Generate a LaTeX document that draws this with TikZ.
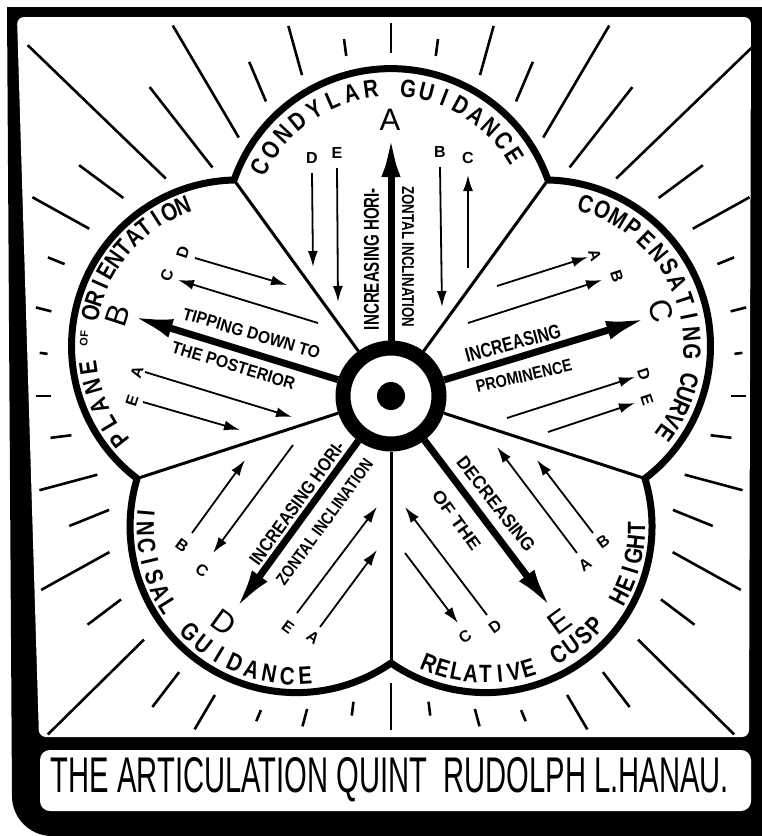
\documentclass[tikz,border=0pt]{standalone}
\usepackage{fontspec}
\setmainfont{Liberation Sans}
\newfontfamily\arcfamily[FakeStretch=0.82]{Liberation Sans}
\usepackage{graphicx}
\usetikzlibrary{arrows.meta}

% one word round a lobe: centre, radius, first angle, last angle, letters, count, turn
\newcommand{\arcword}[7]{%
  \foreach \ch [count=\i] in {#5} {%
    \pgfmathsetmacro\ang{#3+(#4-#3)*(\i-1)/(#6-1)}%
    \node[arcletter, rotate={\ang#7}] at ([shift={(\ang:#2)}]#1) {\ch};
  }}

\tikzset{
  ray/.style={line width=2.6pt},
  divider/.style={line width=3pt},
  petal/.style={line width=7pt, line join=round},
  hub/.style={circle, draw, fill=white, line width=15pt, minimum size=96pt, inner sep=0pt},
  bigarrow/.style={line width=7pt, -{Latex[length=42pt,width=19pt]}},
  smallarrow/.style={line width=1.8pt, -{Latex[length=16pt,width=10pt]}},
  biglabel/.style={font=\fontsize{31}{31}\selectfont, inner sep=0pt},
  smalllabel/.style={font=\bfseries\fontsize{16}{16}\selectfont, inner sep=0pt},
  arcletter/.style={font=\arcfamily\bfseries\fontsize{25}{25}\selectfont, inner sep=0pt},
}

\begin{document}
\begin{tikzpicture}[x=1pt,y=1pt]
\useasboundingbox (0,0) rectangle (762,-836);

% frame
\fill[white] (0,0) rectangle (762,-836);
\fill (7,-7) -- (12,-796) arc[start angle=180,end angle=270,radius=40] -- (762,-836) -- (762,-7) -- cycle;
\fill[white,rounded corners=7pt] (17,-17) -- (751,-17) -- (749,-737) -- (39,-737) -- cycle;
\fill[white,rounded corners=10pt] (40,-750) rectangle (751,-811);
\node (title) at (390,-780) {\resizebox{678pt}{35pt}{THE ARTICULATION QUINT\ \ RUDOLPH L.HANAU.}};

\coordinate (O) at (391,-396);

% rays
\begin{scope}
  \clip (17,-17) -- (751,-17) -- (749,-737) -- (39,-737) -- cycle;
  \foreach \a/\ra/\rb in {90/343/373, 97.5/343/360, 105.5/333/384, 113/320/363,
      120.5/300/430, 128/290/392, 136/313/505, 143.5/333/388, 151/345/410,
      158/352/370, 166/350/366, 173/346/354, 180/340/355, 187/322/343,
      195/304/364, 202/304/347, 209/322/400, 217/338/380, 224.6/347/482,
      232.5/348/392, 239.5/347/387, 247.5/340/352, 255/324/342, 263/308/322,
      270/287/334}
    \draw[ray, shift={(O)}] (\a:\ra) -- (\a:\rb) ({180-\a}:\ra) -- ({180-\a}:\rb);
\end{scope}

% lobe centres and cusps
\foreach \n/\a in {T/90, R/18, BR/-54, BL/-126, L/162}
  \path (O) ++(\a:161) coordinate (c\n);
\foreach \n/\a in {TL/126, TR/54, R/-18, B/-90, L/198}
  \path (O) ++(\a:267) coordinate (k\n);

\node[hub] (hub) at (O) {};
\fill (O) circle[radius=14];

\foreach \n in {TL, TR, R, B, L}
  \draw[divider] (hub) -- (k\n);

\draw[petal] (kTL) arc[start angle=160.7,end angle=19.3,radius=166.3]
  arc[start angle=88.7,end angle=-52.7,radius=166.3]
  arc[start angle=16.7,end angle=-124.7,radius=166.3]
  arc[start angle=-55.3,end angle=-196.7,radius=166.3]
  arc[start angle=232.7,end angle=91.3,radius=166.3] -- cycle;

% lettering round the lobes
\arcword{cT}{147}{152.6}{97.9}{C,O,N,D,Y,L,A,R}{8}{-90}
\arcword{cT}{147}{83.2}{32.6}{G,U,I,D,A,N,C,E}{8}{-90}
\arcword{cL}{151}{218.3}{188.2}{P,L,A,N,E}{5}{-90}
\arcword{cL}{151}{167.1}{111.5}{O,R,I,E,N,T,A,T,I,O,N}{11}{-90}
\arcword{cR}{148}{73.7}{-2.2}{C,O,M,P,E,N,S,A,T,I,N,G}{12}{-90}
\arcword{cR}{149}{-13.2}{-35.5}{C,U,R,V,E}{5}{-90}
\arcword{cBL}{151}{174.9}{212.1}{I,N,C,I,S,A,L}{7}{+90}
\arcword{cBL}{150}{225.1}{273.4}{G,U,I,D,A,N,C,E}{8}{+90}
\arcword{cBR}{148}{247.5}{286.7}{R,E,L,A,T,I,V,E}{8}{+90}
\arcword{cBR}{147}{299.7}{317.7}{C,U,S,P}{4}{+90}
\arcword{cBR}{151}{332.1}{359.4}{H,E,I,G,H,T}{6}{+90}
\node[rotate=87, font=\bfseries\fontsize{11}{11}\selectfont, inner sep=0pt] (of) at ([shift={(177:154)}]cL) {OF};

% big arrows
\draw[bigarrow] (hub) -- (391,-135);
\draw[bigarrow] (hub) -- (131,-316);
\draw[bigarrow] (hub) -- (648,-318);
\draw[bigarrow] (hub) -- (235,-610);
\draw[bigarrow] (hub) -- (552,-609);

\node[biglabel] (A) at (390,-120) {A};
\node[biglabel, rotate=72] (B) at (118,-315) {B};
\node[biglabel, rotate=-72] (C) at (661,-311) {C};
\node[biglabel, rotate=-36] (D) at (224,-622) {D};
\node[biglabel, rotate=36] (E) at (560,-622) {E};

% small arrows
\foreach \x/\y/\u/\v in {312/173/313/267, 337/168/338/302, 440/167/442/307, 468/268/468/175,
    195/258/287/285, 318/323/178/280, 145/372/292/417, 143/402/240/430,
    497/286/588/257, 468/323/602/280, 507/418/635/377, 548/432/635/403,
    192/533/245/460, 293/445/213/553, 297/613/377/507, 320/627/377/550,
    577/553/497/447, 593/533/537/460, 487/615/405/507, 405/553/458/623}
  \draw[smallarrow] (\x,-\y) -- (\u,-\v);

\foreach \t/\x/\y/\r in {D/312/158/0, E/337/153/0, B/440/152/0, C/468/158/0,
    D/183/252/72, C/167/275/72, A/137/372/72, E/132/401/72,
    A/595/255/-72, B/617/276/-72, D/644/374/-72, E/647/400/-72,
    B/182/545/-36, C/202/570/-36, E/288/627/-36, A/313/637/-36,
    A/585/565/36, B/603/542/36, C/465/637/36, D/495/627/36}
  \node[smalllabel, rotate=\r] (l\t\x) at (\x,-\y) {\t};

% straight lettering
\node[rotate=90] (incA) at (371.5,-259) {\resizebox{142pt}{15pt}{\bfseries INCREASING HORI-}};
\node[rotate=-90] (zonA) at (408,-257) {\resizebox{141pt}{12pt}{\bfseries ZONTAL INCLINATION}};
\node[rotate=-16.5] (tip) at (251.5,-333.5) {\resizebox{142pt}{12pt}{\bfseries TIPPING DOWN TO}};
\node[rotate=-17] (post) at (233.5,-365.5) {\resizebox{128pt}{12pt}{\bfseries THE POSTERIOR}};
\node[rotate=15] (incC) at (513,-343) {\resizebox{98pt}{14pt}{\bfseries INCREASING}};
\node[rotate=13] (prom) at (524,-376) {\resizebox{98pt}{12pt}{\bfseries PROMINENCE}};
\node[rotate=54] (incD) at (297,-503) {\resizebox{148pt}{13pt}{\bfseries INCREASING HORI-}};
\node[rotate=54] (zonD) at (324.5,-522) {\resizebox{152pt}{12pt}{\bfseries ZONTAL INCLINATION}};
\node[rotate=-52] (decr) at (496,-504) {\resizebox{115pt}{13pt}{\bfseries DECREASING}};
\node[rotate=-54] (ofthe) at (456.5,-520.5) {\resizebox{70pt}{12pt}{\bfseries OF THE}};
\end{tikzpicture}
\end{document}
